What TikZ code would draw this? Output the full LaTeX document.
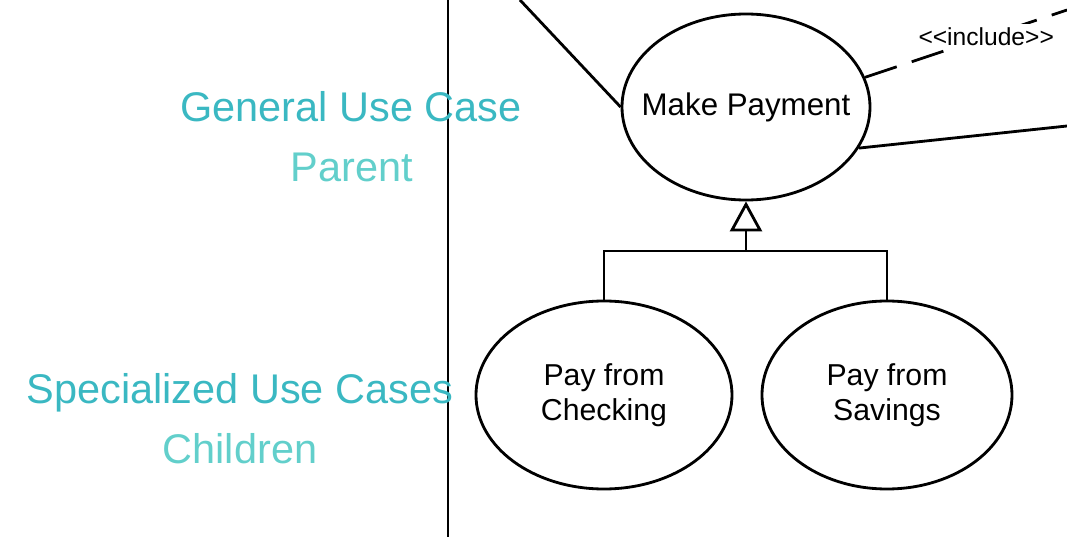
\documentclass[tikz,border=0pt]{standalone}
\usepackage{fontspec}
\setmainfont{Liberation Sans}
\usepackage{xcolor}
\usepackage{tikz}
\usetikzlibrary{positioning,shapes.geometric,arrows.meta}
\definecolor{headteal}{RGB}{58,184,194}
\definecolor{subteal}{RGB}{98,207,203}
\tikzstyle{usecase} = [ellipse, draw=black, line width=0.8pt, inner sep=0pt, align=center,
    font=\fontsize{8.6}{9.8}\selectfont]
\tikzstyle{heading} = [text=headteal, inner sep=0pt, anchor=base, font=\fontsize{11.8}{14}\selectfont]
\tikzstyle{subheading} = [text=subteal, inner sep=0pt, anchor=base, font=\fontsize{11.8}{14}\selectfont]
\tikzstyle{assoc} = [line width=0.8pt]
\tikzstyle{incl} = [line width=0.8pt, dash pattern=on 9.5pt off 4.5pt]
\tikzstyle{gen} = [line width=0.8pt, -{Triangle[open, length=3mm, width=3.2mm]}]

\begin{document}
\begin{tikzpicture}
    \useasboundingbox (0,0) rectangle (10.67,-5.37);
    % system boundary
    \coordinate (boundTop) at (4.48,0);
    \coordinate (boundBot) at (4.48,-5.37);
    \draw [assoc] (boundTop) -- (boundBot);
    % the use cases
    \node [usecase, minimum width=2.48cm, minimum height=1.86cm, inner xsep=-0.2cm,
    font=\fontsize{8.9}{10}\selectfont] (payment) at (7.46,-1.07) {Make Payment};
    \node [usecase, minimum width=2.56cm, minimum height=1.88cm] (checking) at (6.04,-3.95) {Pay from\\Checking};
    \node [usecase, minimum width=2.50cm, minimum height=1.88cm] (savings) at (8.87,-3.95) {Pay from\\Savings};
    % left hand captions
    \node [heading] (general) at (3.51,-1.22) {General Use Case};
    \node [subheading] (parent) at (3.52,-1.81) {Parent};
    \node [heading] (special) at (2.40,-4.03) {Specialized Use Cases};
    \node [subheading] (children) at (2.40,-4.63) {Children};
    % associations leaving the picture
    \coordinate (actorTop) at (5.20,0);
    \coordinate (inclEnd) at (10.67,-0.10);
    \coordinate (assocEnd) at (10.67,-1.26);
    \draw [assoc] (actorTop) -- (payment.west);
    \draw [incl] (payment.14) -- node[pos=0.6, fill=white, inner sep=1pt,
    font=\fontsize{7}{8}\selectfont] (inclLabel) {{<}{<}include{>}{>}} (inclEnd);
    \draw [assoc] (payment.-20) -- (assocEnd);
    % generalization
    \coordinate (bar) at (7.46,-2.51);
    \draw [assoc] (checking.north) |- (bar) -| (savings.north);
    \draw [gen] (bar) -- (payment.south);
\end{tikzpicture}
\end{document}
